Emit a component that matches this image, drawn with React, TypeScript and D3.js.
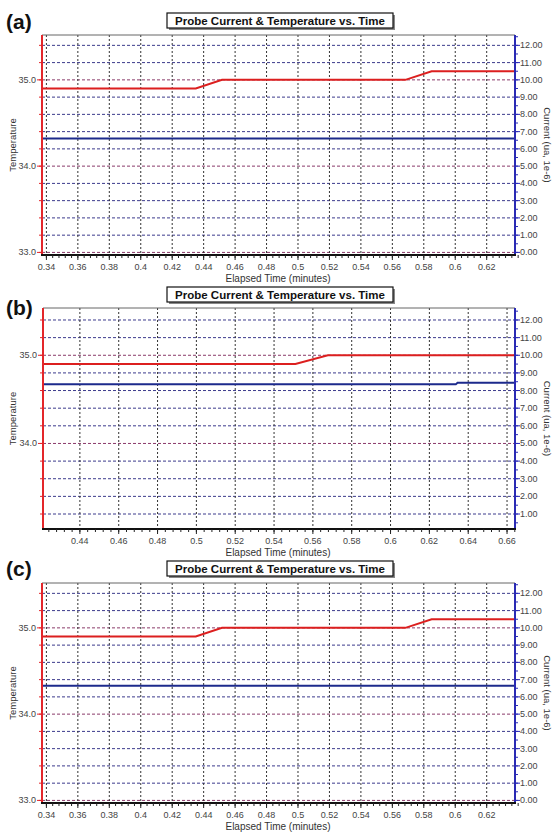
import * as d3 from "d3";

// ---- data ----
const titleText = "Probe Current & Temperature vs. Time";

const xTicksA = [0.34, 0.36, 0.38, 0.4, 0.42, 0.44, 0.46, 0.48, 0.5, 0.52, 0.54, 0.56, 0.58, 0.6, 0.62];
const xTicksB = [0.44, 0.46, 0.48, 0.5, 0.52, 0.54, 0.56, 0.58, 0.6, 0.62, 0.64, 0.66];

const tempTicksA = [33, 34, 35];
const tempTicksB = [34, 35];
const curTicksA = [0, 1, 2, 3, 4, 5, 6, 7, 8, 9, 10, 11, 12];
const curTicksB = [1, 2, 3, 4, 5, 6, 7, 8, 9, 10, 11, 12];

const timeA = [0.3372, 0.435, 0.4517, 0.5683, 0.585, 0.638];
const tempA = [34.9, 34.9, 35.0, 35.0, 35.1, 35.1];
const curTimeA = [0.3372, 0.638];
const curA = [6.6, 6.6];

const timeB = [0.421, 0.551, 0.5677, 0.6641];
const tempB = [34.9, 34.9, 35.0, 35.0];
const curTimeB = [0.421, 0.6336, 0.6345, 0.6641];
const curB = [8.35, 8.35, 8.44, 8.44];

const timeC = [0.3372, 0.435, 0.4517, 0.5683, 0.585, 0.638];
const tempC = [34.9, 34.9, 35.0, 35.0, 35.1, 35.1];
const curTimeC = [0.3372, 0.638];
const curC = [6.65, 6.65];

const font = "Liberation Sans, Arial, sans-serif";
const RED = "#e3262a";
const BLUE = "#2a2ab4";

interface PanelProps {
  tag: string;
  tagY: number;
  titleY: number;
  left: number;
  right: number;
  top: number;
  bottom: number;
  xDomain: [number, number];
  curDomain: [number, number];
  xTicks: number[];
  tempTicks: number[];
  curTicks: number[];
  time: number[];
  temp: number[];
  curTime: number[];
  cur: number[];
}

function Panel(p: PanelProps) {
  const x = d3.scaleLinear().domain(p.xDomain).range([p.left, p.right]);
  const yCur = d3.scaleLinear().domain(p.curDomain).range([p.bottom, p.top]);
  // temperature axis is tied to current axis: 1 deg = 5 units, 33.0 = 0
  const yTemp = d3
    .scaleLinear()
    .domain([33 + p.curDomain[0] / 5, 33 + p.curDomain[1] / 5])
    .range([p.bottom, p.top]);

  const tempLine = d3
    .line<number>()
    .x((_, i) => x(p.time[i]))
    .y((d) => yTemp(d));
  const curLine = d3
    .line<number>()
    .x((_, i) => x(p.curTime[i]))
    .y((d) => yCur(d));

  const minorX = d3.range(p.xDomain[0], p.xDomain[1], 0.004).map((v) => Math.ceil(v / 0.004) * 0.004);
  const minorTemp = d3
    .range(Math.ceil(yTemp.domain()[0] * 5), Math.floor(yTemp.domain()[1] * 5) + 1)
    .map((v) => v / 5);
  const minorCur = d3
    .range(Math.ceil(p.curDomain[0] * 2), Math.floor(p.curDomain[1] * 2) + 1)
    .map((v) => v / 2);

  const midY = (p.top + p.bottom) / 2;
  const boxW = 226;
  const boxX = 280 - boxW / 2;

  return (
    <g>
      <text x={6} y={p.tagY} fontFamily={font} fontWeight="bold" fontSize={21} fill="#111">
        {p.tag}
      </text>
      <rect x={boxX + 2} y={p.titleY - 11} width={boxW} height={15} fill="#888" />
      <rect x={boxX} y={p.titleY - 13} width={boxW} height={15} fill="#fff" stroke="#111" strokeWidth={1.2} />
      <text x={280} y={p.titleY - 1.5} textAnchor="middle" fontFamily={font} fontWeight="bold" fontSize={11.5} fill="#111">
        {titleText}
      </text>

      {/* horizontal grid */}
      {p.curTicks.concat(p.curDomain[0] <= 0 ? [] : []).map((c) => {
        const isTempMajor = c % 5 === 0;
        return (
          <line
            key={"h" + c}
            x1={p.left}
            x2={p.right}
            y1={yCur(c)}
            y2={yCur(c)}
            stroke={isTempMajor ? "#8a3a6a" : "#3c3a8c"}
            strokeWidth={1}
            strokeDasharray="3,2"
          />
        );
      })}
      {/* vertical grid */}
      {p.xTicks.map((t) => (
        <line
          key={"v" + t}
          x1={x(t)}
          x2={x(t)}
          y1={p.top}
          y2={p.bottom}
          stroke="#333"
          strokeWidth={1}
          strokeDasharray="2,2"
        />
      ))}

      {/* top border */}
      <line x1={p.left} x2={p.right} y1={p.top} y2={p.top} stroke="#666" strokeWidth={1} />

      {/* data */}
      <path d={curLine(p.cur) ?? ""} fill="none" stroke="#1c2a8c" strokeWidth={2} />
      <path d={tempLine(p.temp) ?? ""} fill="none" stroke="#dc1f1f" strokeWidth={2} />

      {/* left temperature axis */}
      <line x1={p.left} x2={p.left} y1={p.top} y2={p.bottom} stroke={RED} strokeWidth={2} />
      {minorTemp.map((t) => (
        <line key={"mt" + t} x1={p.left - 3} x2={p.left} y1={yTemp(t)} y2={yTemp(t)} stroke={RED} strokeWidth={1} />
      ))}
      {p.tempTicks.map((t) => (
        <g key={"tt" + t}>
          <line x1={p.left - 5} x2={p.left} y1={yTemp(t)} y2={yTemp(t)} stroke={RED} strokeWidth={1} />
          <text x={p.left - 6} y={yTemp(t) + 3} textAnchor="end" fontFamily={font} fontSize={9} fill="#444">
            {t.toFixed(1)}
          </text>
        </g>
      ))}
      <text
        transform={`translate(16,${midY}) rotate(-90)`}
        textAnchor="middle"
        fontFamily={font}
        fontSize={9.5}
        fill="#333"
      >
        Temperature
      </text>

      {/* right current axis */}
      <line x1={p.right} x2={p.right} y1={p.top} y2={p.bottom} stroke={BLUE} strokeWidth={2} />
      {minorCur.map((c) => (
        <line key={"mc" + c} x1={p.right} x2={p.right + 3} y1={yCur(c)} y2={yCur(c)} stroke={BLUE} strokeWidth={1} />
      ))}
      {p.curTicks.map((c) => (
        <g key={"ct" + c}>
          <line x1={p.right} x2={p.right + 5} y1={yCur(c)} y2={yCur(c)} stroke={BLUE} strokeWidth={1} />
          <text x={p.right + 5} y={yCur(c) + 3} fontFamily={font} fontSize={9} fill="#444">
            {c.toFixed(2)}
          </text>
        </g>
      ))}
      <text
        transform={`translate(544,${midY}) rotate(90)`}
        textAnchor="middle"
        fontFamily={font}
        fontSize={9.5}
        fill="#333"
      >
        Current (ua, 1e-6)
      </text>

      {/* bottom time axis */}
      <line x1={p.left - 1} x2={p.right + 1} y1={p.bottom} y2={p.bottom} stroke="#111" strokeWidth={2} />
      {minorX.map((t, i) => (
        <line key={"mx" + i} x1={x(t)} x2={x(t)} y1={p.bottom} y2={p.bottom + 3} stroke="#222" strokeWidth={1} />
      ))}
      {p.xTicks.map((t) => (
        <g key={"xt" + t}>
          <line x1={x(t)} x2={x(t)} y1={p.bottom} y2={p.bottom + 5} stroke="#222" strokeWidth={1} />
          <text x={x(t)} y={p.bottom + 15} textAnchor="middle" fontFamily={font} fontSize={9} fill="#444">
            {String(+t.toFixed(2))}
          </text>
        </g>
      ))}
      <text x={278} y={p.bottom + 27} textAnchor="middle" fontFamily={font} fontSize={10} fill="#333">
        Elapsed Time (minutes)
      </text>
    </g>
  );
}

export default function App() {
  return (
    <div style={{ position: "absolute", left: 0, top: 0, background: "#fff" }}>
      <svg width={560} height={837} style={{ display: "block" }}>
        <rect width={560} height={837} fill="#fff" />
        <Panel
          tag="(a)"
          tagY={29}
          titleY={26}
          left={42}
          right={515}
          top={35}
          bottom={255}
          xDomain={[0.3372, 0.638]}
          curDomain={[-0.15, 12.6]}
          xTicks={xTicksA}
          tempTicks={tempTicksA}
          curTicks={curTicksA}
          time={timeA}
          temp={tempA}
          curTime={curTimeA}
          cur={curA}
        />
        <Panel
          tag="(b)"
          tagY={315}
          titleY={300}
          left={43}
          right={515}
          top={308}
          bottom={529}
          xDomain={[0.421, 0.6641]}
          curDomain={[0.15, 12.68]}
          xTicks={xTicksB}
          tempTicks={tempTicksB}
          curTicks={curTicksB}
          time={timeB}
          temp={tempB}
          curTime={curTimeB}
          cur={curB}
        />
        <Panel
          tag="(c)"
          tagY={576}
          titleY={574}
          left={42}
          right={515}
          top={583}
          bottom={803}
          xDomain={[0.3372, 0.638]}
          curDomain={[-0.15, 12.6]}
          xTicks={xTicksA}
          tempTicks={tempTicksA}
          curTicks={curTicksA}
          time={timeC}
          temp={tempC}
          curTime={curTimeC}
          cur={curC}
        />
      </svg>
    </div>
  );
}
